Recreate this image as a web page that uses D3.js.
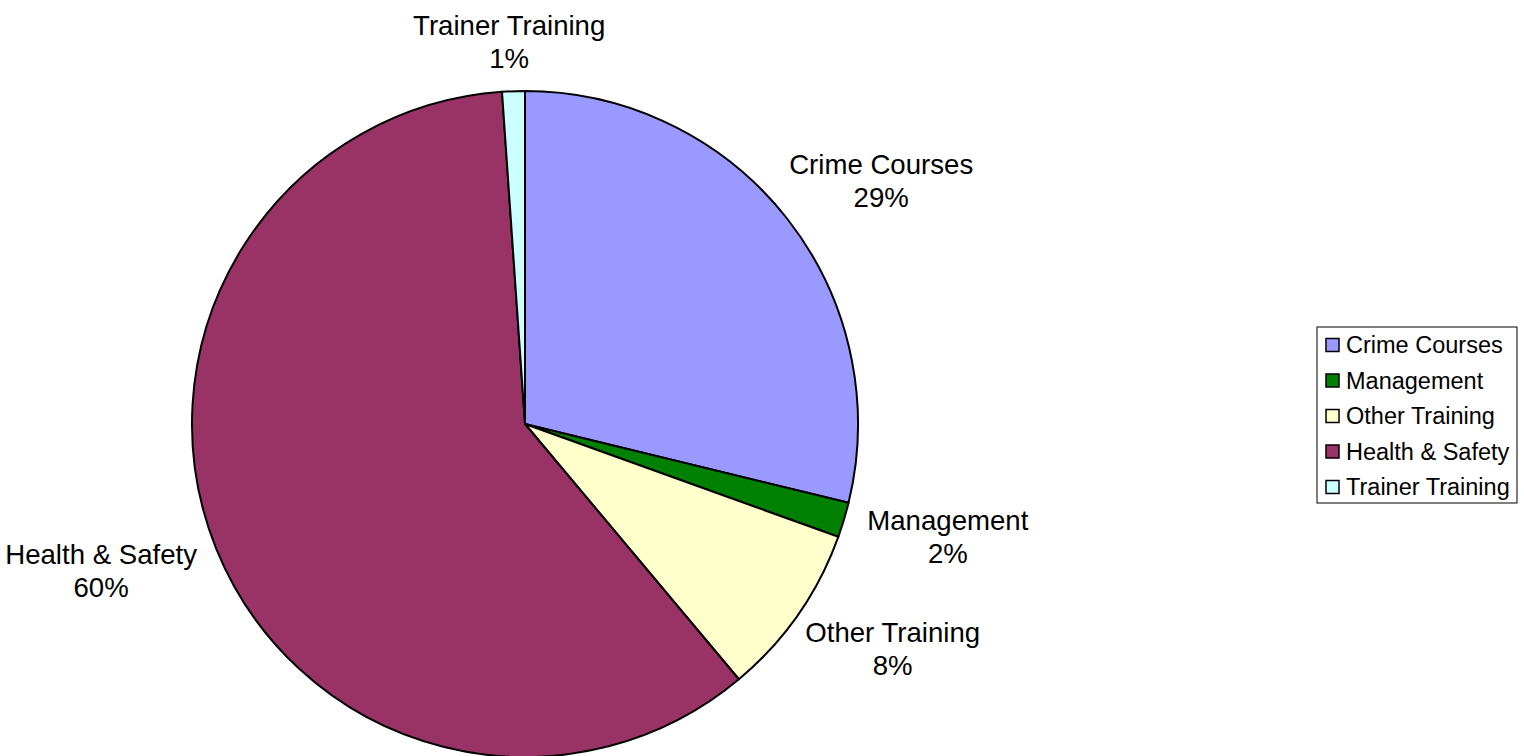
<!DOCTYPE html>
<html>
<head>
<meta charset="utf-8">
<script src="https://cdn.jsdelivr.net/npm/d3@7"></script>
<style>
  body { margin: 0; background: #fff; }
  text { font-family: "Liberation Sans", Arial, sans-serif; fill: #000; }
</style>
</head>
<body>
<div id="chart"></div>
<script>
var width = 1524,
  height = 756;

// slices, clockwise from 12 o'clock
var categories = ["Crime Courses", "Management", "Other Training", "Health & Safety", "Trainer Training"];
var shares = [28.8, 1.7, 8.4, 60.0, 1.1];
var colors = ["#9999ff", "#008000", "#ffffcc", "#993366", "#ccffff"];

var cx = 525, cy = 424, radius = 333;

var svg = d3.select("#chart").append("svg")
  .attr("width", width)
  .attr("height", height);

var data = categories.map(function(c, i) {
  return { name: c, value: shares[i], color: colors[i] };
});

var pie = d3.pie()
  .sort(null)
  .value(function(d) { return d.value; });

var arc = d3.arc()
  .innerRadius(0)
  .outerRadius(radius);

var arcs = pie(data);
var total = d3.sum(shares);

var g = svg.append("g")
  .attr("transform", "translate(" + cx + "," + cy + ")");

g.selectAll("path.slice")
  .data(arcs)
  .enter().append("path")
    .attr("class", "slice")
    .attr("d", arc)
    .attr("fill", function(d) { return d.data.color; })
    .attr("stroke", "#000")
    .attr("stroke-width", 2)
    .attr("stroke-linejoin", "round");

// data labels outside the pie
var labelRadius = radius + 28;
var lineH = 33;

var labels = g.selectAll("g.label")
  .data(arcs)
  .enter().append("g")
    .attr("class", "label");

labels.each(function(d) {
  var lab = d3.select(this);
  var t = lab.append("text")
    .attr("text-anchor", "middle")
    .style("font-size", "27.6px");
  t.append("tspan").attr("x", 0).attr("dy", 0).text(d.data.name);
  t.append("tspan").attr("x", 0).attr("dy", lineH)
    .text(Math.round(d.data.value / total * 100) + "%");

  var bb = t.node().getBBox();
  var a = (d.startAngle + d.endAngle) / 2;
  var px = labelRadius * Math.sin(a),
    py = -labelRadius * Math.cos(a);
  // upward-facing labels sit a little closer to the rim
  var vy = Math.cos(a) > 0.9 ? 0.65 : 1;
  var bx = px + bb.width / 2 * Math.sin(a),
    by = py - vy * bb.height / 2 * Math.cos(a);
  var ox = bx - (bb.x + bb.width / 2),
    oy = by - (bb.y + bb.height / 2);
  lab.attr("transform", "translate(" + ox + "," + oy + ")");
});

// legend
var legX = 1317, legY = 327, legW = 200, legH = 176;

var legend = svg.append("g")
  .attr("transform", "translate(" + legX + "," + legY + ")");

legend.append("rect")
  .attr("width", legW)
  .attr("height", legH)
  .attr("fill", "#fff")
  .attr("stroke", "#000")
  .attr("stroke-width", 1);

var rowY = d3.scalePoint()
  .domain(categories)
  .range([18, 160]);

var rows = legend.selectAll("g.row")
  .data(data)
  .enter().append("g")
    .attr("class", "row")
    .attr("transform", function(d) { return "translate(0," + rowY(d.name) + ")"; });

rows.append("rect")
  .attr("x", 9)
  .attr("y", -6.5)
  .attr("width", 13)
  .attr("height", 13)
  .attr("fill", function(d) { return d.color; })
  .attr("stroke", "#000")
  .attr("stroke-width", 1.5);

rows.append("text")
  .attr("x", 29)
  .attr("dy", "0.36em")
  .style("font-size", "23.5px")
  .text(function(d) { return d.name; });
</script>
</body>
</html>
